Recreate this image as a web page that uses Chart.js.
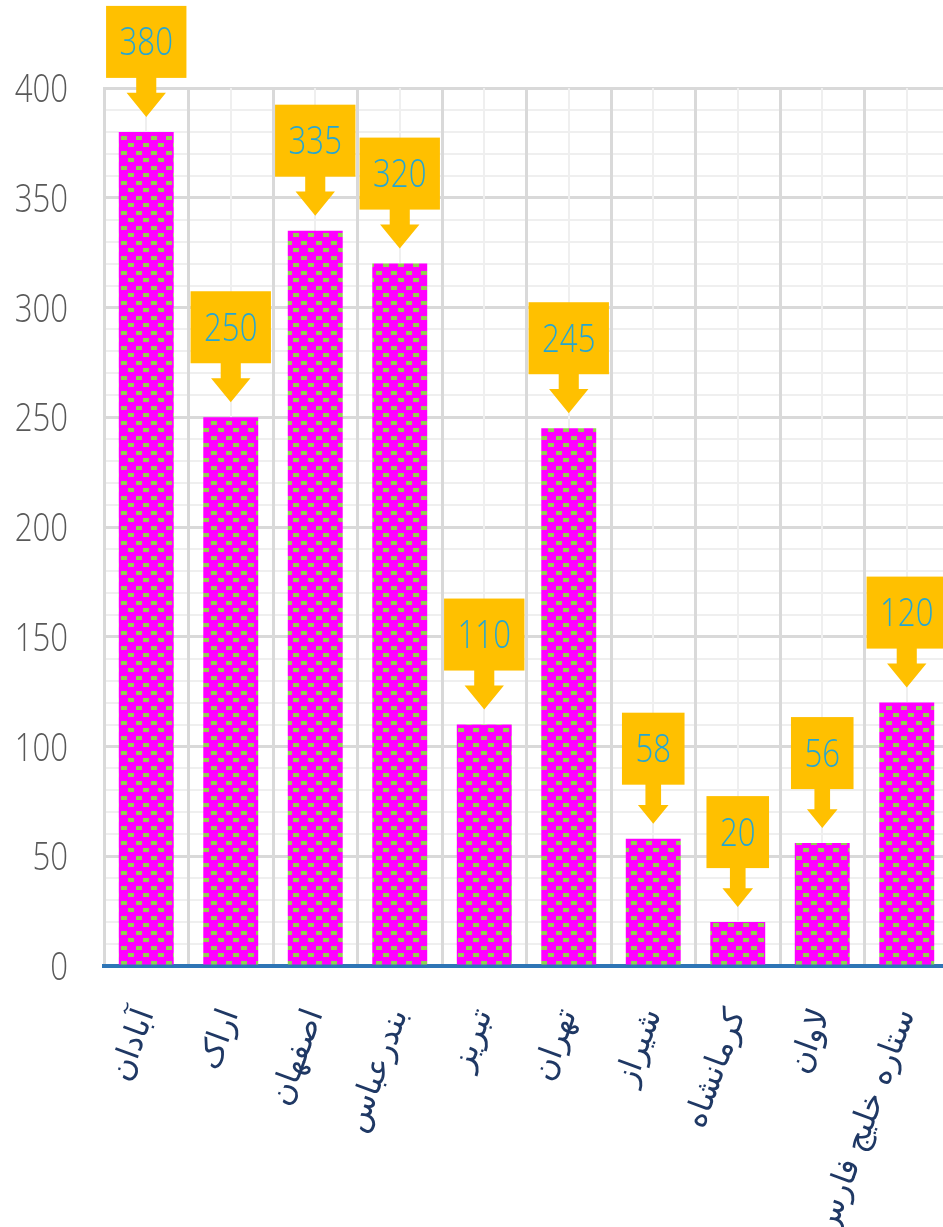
<!DOCTYPE html>
<html>
<head>
<meta charset="utf-8">
<script src="https://cdn.jsdelivr.net/npm/chart.js@4/dist/chart.umd.min.js"></script>
<style>
    html, body { margin: 0; padding: 0; background: #fff; overflow: hidden; }
</style>
</head>
<body>
<canvas id="myChart" width="950" height="1227"></canvas>
<script>
const cities = ['آبادان', 'اراک', 'اصفهان', 'بندرعباس', 'تبریز', 'تهران', 'شیراز', 'کرمانشاه', 'لاوان', 'ستاره خلیج فارس'];
const counts = [380, 250, 335, 320, 110, 245, 58, 20, 56, 120];
const yMin = 0;
const yMax = 400;
const majorStep = 50;
const minorStep = 10;

const numFont = '300 38px "Open Sans", sans-serif';
const squeeze = 0.82; // digits in the picture are narrow

function makePattern(){
    const tile = document.createElement('canvas');
    tile.width = 15;
    tile.height = 15;
    const t = tile.getContext('2d');
    t.fillStyle = '#ff00ff';
    t.fillRect(0, 0, 15, 15);
    t.fillStyle = '#92d050';
    t.fillRect(1, 1, 6, 4);
    t.fillRect(8, 8, 6, 4);
    return document.createElement('canvas').getContext('2d').createPattern(tile, 'repeat');
}

function narrowText(ctx, text, x, y, align){
    ctx.save();
    ctx.translate(x, y);
    ctx.scale(squeeze, 1);
    ctx.textAlign = align;
    ctx.fillText(text, 0, 0);
    ctx.restore();
}

// y tick numbers, drawn narrow at the scale's own tick positions
const yNumbers = {
    id: 'yNumbers',
    afterDraw(chart){
        const ctx = chart.ctx;
        const y = chart.scales.y;
        ctx.save();
        ctx.font = numFont;
        ctx.fillStyle = '#595959';
        ctx.textBaseline = 'alphabetic';
        y.ticks.forEach(t => {
            if(t.value % majorStep !== 0) return;
            const h = ctx.measureText(String(t.value)).actualBoundingBoxAscent;
            narrowText(ctx, String(t.value), 68, y.getPixelForValue(t.value) + h / 2, 'right');
        });
        ctx.restore();
    }
};

// gold arrow callouts above each bar
const callouts = {
    id: 'callouts',
    afterDatasetsDraw(chart){
        const ctx = chart.ctx;
        const meta = chart.getDatasetMeta(0);
        ctx.save();
        ctx.font = numFont;
        meta.data.forEach((bar, i) => {
            const label = String(counts[i]);
            const m = ctx.measureText(label);
            const w = m.width * squeeze + 27, h = 71;
            const tip = bar.y - 15;
            const bottom = tip - 40;
            const top = bottom - h;
            const stemW = w * 0.25, triW = w * 0.49, triH = w * 0.3;
            ctx.fillStyle = '#ffc000';
            ctx.fillRect(bar.x - w / 2, top, w, h + 1);
            ctx.beginPath();
            ctx.moveTo(bar.x - stemW / 2, bottom);
            ctx.lineTo(bar.x + stemW / 2, bottom);
            ctx.lineTo(bar.x + stemW / 2, tip - triH);
            ctx.lineTo(bar.x + triW / 2, tip - triH);
            ctx.lineTo(bar.x, tip);
            ctx.lineTo(bar.x - triW / 2, tip - triH);
            ctx.lineTo(bar.x - stemW / 2, tip - triH);
            ctx.closePath();
            ctx.fill();
            ctx.fillStyle = '#24a6d3';
            ctx.textBaseline = 'alphabetic';
            narrowText(ctx, label, bar.x, top + h / 2 + m.actualBoundingBoxAscent / 2, 'center');
        });
        ctx.restore();
    }
};

const ctx = document.querySelector('#myChart').getContext('2d');
const myChart = new Chart(ctx, {
    type: 'bar',
    data: {
        labels: cities,
        datasets: [{
            data: counts,
            backgroundColor: makePattern(),
            borderWidth: 0,
            categoryPercentage: 1,
            barPercentage: 0.65
        }]
    },
    plugins: [callouts, yNumbers],
    options: {
        responsive: false,
        animation: false,
        layout: { padding: { top: 88, right: 1, left: 0, bottom: 0 } },
        plugins: {
            legend: { display: false },
            tooltip: { enabled: false }
        },
        scales: {
            y: {
                min: yMin,
                max: yMax,
                afterFit(scale){ scale.width = 104; scale.paddingTop = 0; scale.paddingBottom = 0; },
                border: { color: '#d9d9d9', width: 3 },
                grid: {
                    drawTicks: false,
                    color: c => c.tick.value === 0 ? 'rgba(0,0,0,0)' : (c.tick.value % majorStep === 0 ? '#d9d9d9' : '#efefef'),
                    lineWidth: c => c.tick.value % majorStep === 0 ? 3 : 2
                },
                ticks: {
                    stepSize: minorStep,
                    autoSkip: false,
                    display: false
                }
            },
            x: {
                afterFit(scale){ scale.height = 261; scale.paddingLeft = 0; scale.paddingRight = 0; },
                border: { color: '#2e75b6', width: 4 },
                grid: { drawTicks: false, color: '#d9d9d9', lineWidth: 3 },
                ticks: {
                    autoSkip: false,
                    minRotation: 70,
                    maxRotation: 70,
                    padding: 38,
                    color: '#1f3864',
                    font: { family: '"DejaVu Sans", sans-serif', size: 32 }
                }
            },
            x2: {
                type: 'category',
                labels: cities,
                position: 'bottom',
                offset: true,
                afterFit(scale){ scale.height = 0; scale.paddingLeft = 0; scale.paddingRight = 0; },
                border: { display: false },
                grid: { offset: false, drawTicks: false, color: '#efefef', lineWidth: 2 },
                ticks: { display: false }
            }
        }
    }
});
</script>
</body>
</html>
